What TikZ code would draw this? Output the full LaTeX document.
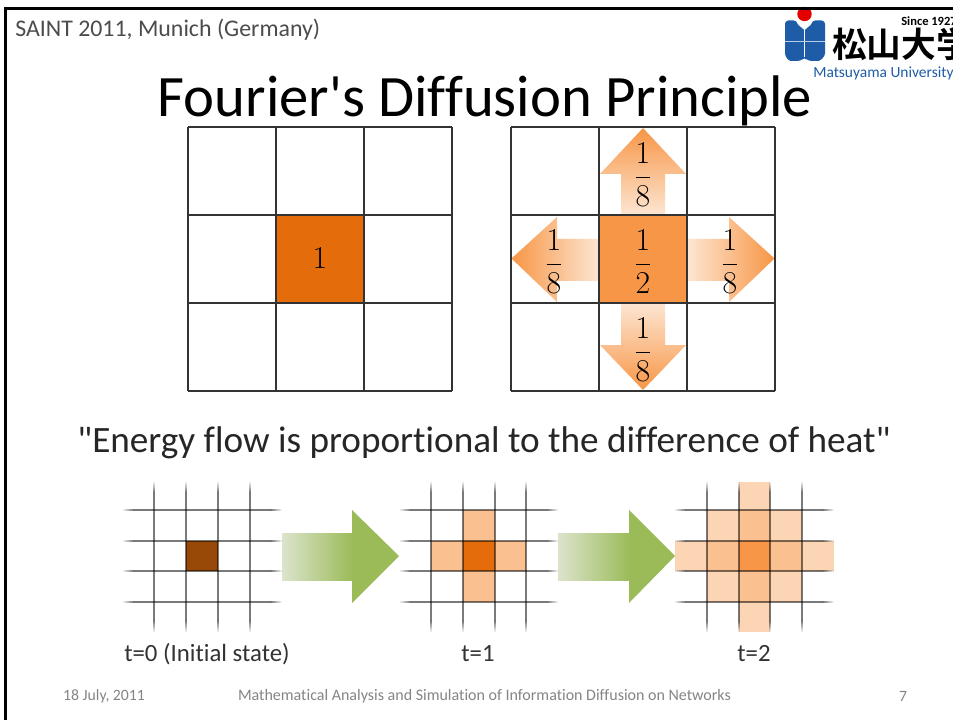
\documentclass[tikz,border=0pt]{standalone}
\usepackage{fontspec}
\setmainfont{Carlito}
\newfontfamily\plainf{Carlito}[Ligatures=NoCommon]
\newfontfamily\cjk{Noto Sans CJK JP}[BoldFont={* Bold}]
\usetikzlibrary{shadings}
\definecolor{hot}{HTML}{E46C0A}
\definecolor{warm}{HTML}{F79646}
\definecolor{pale}{HTML}{FCD5B5}
\definecolor{fadeend}{HTML}{FDE6D3}
\definecolor{mid}{HTML}{FAC090}
\definecolor{brown}{HTML}{984807}
\definecolor{grn}{HTML}{9BBB59}
\definecolor{grnpale}{HTML}{DCE4CC}
\definecolor{logoblue}{HTML}{1F5CA8}
\tikzset{
  x=0.75pt,y=-0.75pt,
  gridline/.style={draw=black!80,line width=1.1pt},
  softfill/.style={fill=black,opacity=0.52},
  fracnum/.style={font=\fontsize{20}{20}\selectfont,inner sep=0pt},
  caption/.style={font=\plainf\fontsize{18.6}{20}\selectfont,text=black!80,inner sep=0pt},
  foot/.style={font=\plainf\fontsize{11.8}{13}\selectfont,text=black!48,inner sep=0pt},
}
\newcommand{\fr}[2]{\scalebox{1.15}{$\displaystyle\frac{#1}{#2}$}}
\newcommand{\softv}[3]{% x, y1, y2
  \fill[softfill] (#1-0.6,#2+12) rectangle (#1+0.6,#3-12);
  \foreach \k in {0,...,5}{
    \pgfmathsetmacro\op{0.09*(\k+1)}
    \fill[fill=black,opacity=\op] (#1-0.6,#2+2*\k) rectangle ++(1.2,2);
    \fill[fill=black,opacity=\op] (#1-0.6,#3-2*\k-2) rectangle ++(1.2,2);
  }
}
\newcommand{\softh}[3]{% y, x1, x2
  \fill[softfill] (#2+12,#1-0.6) rectangle (#3-12,#1+0.6);
  \foreach \k in {0,...,5}{
    \pgfmathsetmacro\op{0.09*(\k+1)}
    \fill[fill=black,opacity=\op] (#2+2*\k,#1-0.6) rectangle ++(2,1.2);
    \fill[fill=black,opacity=\op] (#3-2*\k-2,#1-0.6) rectangle ++(2,1.2);
  }
}
\begin{document}
\begin{tikzpicture}
\useasboundingbox (0,0) rectangle (953,720);
\fill[white] (0,0) rectangle (953,720);
\begin{scope}
\clip (0,0) rectangle (953,720);
% logo dot under frame
\fill[red!90!black] (804.5,14) circle (7.2);
% frame
\draw[black,line width=2pt] (4,8.5) -- (953,8.5);
\draw[black,line width=2.2pt] (5.7,7) -- (5.7,720);
% header
\node[anchor=west,font=\plainf\fontsize{17.9}{20}\selectfont,text=black!70,inner sep=0pt] (conf) at (15,29.5) {SAINT 2011, Munich (Germany)};
% logo
\fill[logoblue,rounded corners=2.5pt] (785,20.5) -- (797,20.5) .. controls (798,26) and (802,27) .. (804.5,32) .. controls (807,27) and (811,26) .. (812,20.5) -- (825,20.5) -- (825,50) .. controls (825,57) and (820,61) .. (815,61) -- (808,61) -- (804.5,57) -- (801,61) -- (794,61) .. controls (789,61) and (785,57) .. (785,50) -- cycle;
\draw[white,line width=0.5pt] (804.5,30) -- (804.5,57);
\draw[white!70!logoblue,line width=0.6pt] (785,41) -- (825,41);
\node[anchor=west,font=\cjk\bfseries\fontsize{26}{28}\selectfont,inner sep=0pt] (uni) at (832,44.5) {松山大学};
\node[anchor=west,font=\bfseries\fontsize{9.4}{10}\selectfont,inner sep=0pt] (since) at (901,21.5) {Since 1927};
\node[anchor=west,font=\plainf\fontsize{11.6}{13}\selectfont,text=logoblue,inner sep=0pt] (mu) at (813,73) {Matsuyama University};
% title
\node[font=\plainf\fontsize{44}{48}\selectfont,inner sep=0pt] (title) at (485,101) {Fourier's Diffusion Principle};
% left grid
\fill[hot] (276,215) rectangle (364,303);
\foreach \a in {188,276,364,452} \draw[gridline] (\a,127) -- (\a,391);
\foreach \a in {127,215,303,391} \draw[gridline] (188,\a) -- (452,\a);
\node[fracnum] (one) at (320,258) {\scalebox{1.15}{$1$}};
% right grid arrows
\fill[warm] (599,215) rectangle (687,303);
\shade[left color=warm,right color=fadeend] (511.5,258.5) -- (557,217) -- (557,239) -- (599,239) -- (599,281) -- (557,281) -- (557,302) -- cycle;
\shade[left color=fadeend,right color=warm] (774.5,258.5) -- (729,217) -- (729,239) -- (687,239) -- (687,281) -- (729,281) -- (729,302) -- cycle;
\shade[top color=warm,bottom color=fadeend] (643,128) -- (686,174) -- (665,174) -- (665,215) -- (621,215) -- (621,174) -- (600,174) -- cycle;
\shade[top color=fadeend,bottom color=warm] (643,390) -- (686,345) -- (665,345) -- (665,303) -- (621,303) -- (621,345) -- (600,345) -- cycle;
\foreach \a in {511,599,687,775} \draw[gridline] (\a,127) -- (\a,391);
\foreach \a in {127,215,303,391} \draw[gridline] (511,\a) -- (775,\a);
\node[fracnum] (fc) at (643,262) {\fr{1}{2}};
\node[fracnum] (fu) at (643,175) {\fr{1}{8}};
\node[fracnum] (fd) at (643,350) {\fr{1}{8}};
\node[fracnum] (fl) at (554,262) {\fr{1}{8}};
\node[fracnum] (fr) at (730,262) {\fr{1}{8}};
% quote
\node[font=\plainf\fontsize{27.9}{30}\selectfont,text=black!85,inner sep=0pt] (quote) at (484,443) {"Energy flow is proportional to the difference of heat"};
% t=0
\fill[brown] (186,541) rectangle (218,571);
\foreach \a in {154,186,218,250} {\softv{\a}{482}{632}}
\foreach \a in {510,541,571,602} {\softh{\a}{123}{282}}
% t=1
\fill[mid] (463,510) rectangle (495,602);
\fill[mid] (431,541) rectangle (526,571);
\fill[hot] (463,541) rectangle (495,571);
\foreach \a in {431,463,495,526} {\softv{\a}{482}{632}}
\foreach \a in {510,541,571,602} {\softh{\a}{400}{558}}
% t=2
\fill[pale] (739,482) rectangle (770,632);
\fill[pale] (675,541) rectangle (834,571);
\fill[pale] (707,510) rectangle (802,602);
\fill[mid] (739,510) rectangle (770,602);
\fill[mid] (707,541) rectangle (802,571);
\fill[warm] (739,541) rectangle (770,571);
\foreach \a in {707,739,770,802} {\softv{\a}{482}{632}}
\foreach \a in {510,541,571,602} {\softh{\a}{675}{834}}
% big arrows
\shade[left color=grnpale,right color=grn] (282,533) rectangle (353,580);
\fill[grn] (352,580) -- (352,603) -- (399,556) -- (352,510) -- (352,533) -- cycle;
\shade[left color=grnpale,right color=grn] (558,533) rectangle (630,580);
\fill[grn] (629,580) -- (629,603) -- (675,556) -- (629,510) -- (629,533) -- cycle;
% captions
\node[caption] (c0) at (207,654) {t=0 (Initial state)};
\node[caption] (c1) at (478,654) {t=1};
\node[caption] (c2) at (754,654) {t=2};
% footer
\node[foot] (date) at (104,696.5) {18 July, 2011};
\node[foot,font=\plainf\fontsize{12}{13}\selectfont] (ttl) at (484.5,696.5) {Mathematical Analysis and Simulation of Information Diffusion on Networks};
\node[foot] (pg) at (903,696.5) {7};
\end{scope}
\end{tikzpicture}
\end{document}
